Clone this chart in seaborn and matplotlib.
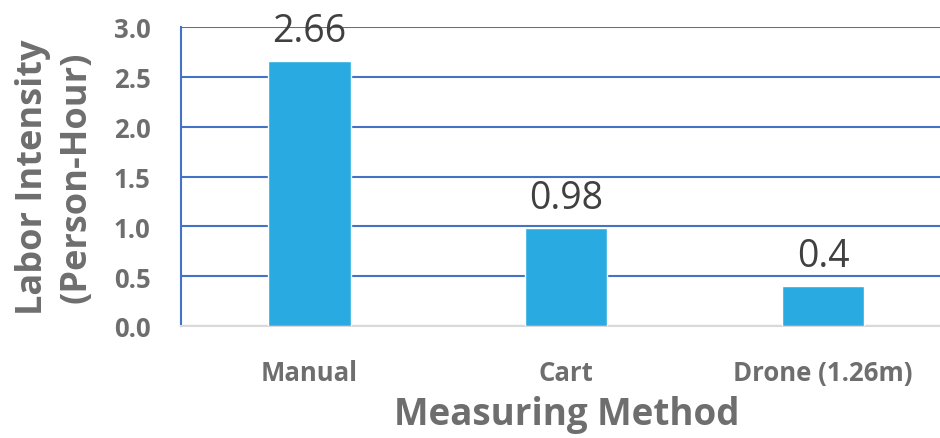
import matplotlib
matplotlib.use("Agg")
import matplotlib.pyplot as plt
import seaborn as sns
import pandas as pd

methods = ["Manual", "Cart", "Drone (1.26m)"]
values = [2.66, 0.98, 0.40]
value_labels = ["2.66", "0.98", "0.4"]
yticks = [0.0, 0.5, 1.0, 1.5, 2.0, 2.5, 3.0]

sns.set_theme(style="white")
plt.rcParams['font.family'] = ['Open Sans', 'DejaVu Sans']

df = pd.DataFrame({"method": methods, "value": values})

fig = plt.figure(figsize=(9.4, 4.39), dpi=100)
ax = fig.add_axes([181/940, 112/439, (951.5-181)/940, (327-28)/439])
sns.barplot(data=df, x="method", y="value", color="#29ABE2", width=0.32,
            saturation=1, ax=ax, zorder=3)
ax.set_xlim(-0.5, 2.5)
ax.set_ylim(0, 3.0)
ax.set_yticks(yticks)
ax.set_yticklabels([f"{t:.1f}" for t in yticks])
ax.grid(axis="y", color="#4472C4", linewidth=1.5, zorder=0)
ax.set_axisbelow(True)
for s in ["top", "right"]:
    ax.spines[s].set_visible(False)
ax.spines["left"].set_color("#4472C4")
ax.spines["left"].set_linewidth(1.5)
ax.spines["bottom"].set_color("#D9D9D9")
ax.spines["bottom"].set_linewidth(1.5)
ax.tick_params(axis="both", length=0)
ax.tick_params(axis="y", labelsize=18.5, labelcolor="#6E6E6E", pad=22)
ax.tick_params(axis="x", labelsize=18.5, labelcolor="#6E6E6E", pad=24)
for lab in ax.get_xticklabels() + ax.get_yticklabels():
    lab.set_fontweight("bold")

for i, (v, t) in enumerate(zip(values, value_labels)):
    ax.text(i, v + 0.2, t, ha="center", va="baseline", fontsize=27,
            color="#404040")

ax.set_xlabel("Measuring Method", fontsize=26.5, fontweight="bold",
              color="#6E6E6E", labelpad=6)
ax.set_ylabel("Labor Intensity\n(Person-Hour)", fontsize=26, fontweight="bold",
              color="#6E6E6E", labelpad=14, linespacing=1.25)

fig.savefig("out.png", dpi=100)
